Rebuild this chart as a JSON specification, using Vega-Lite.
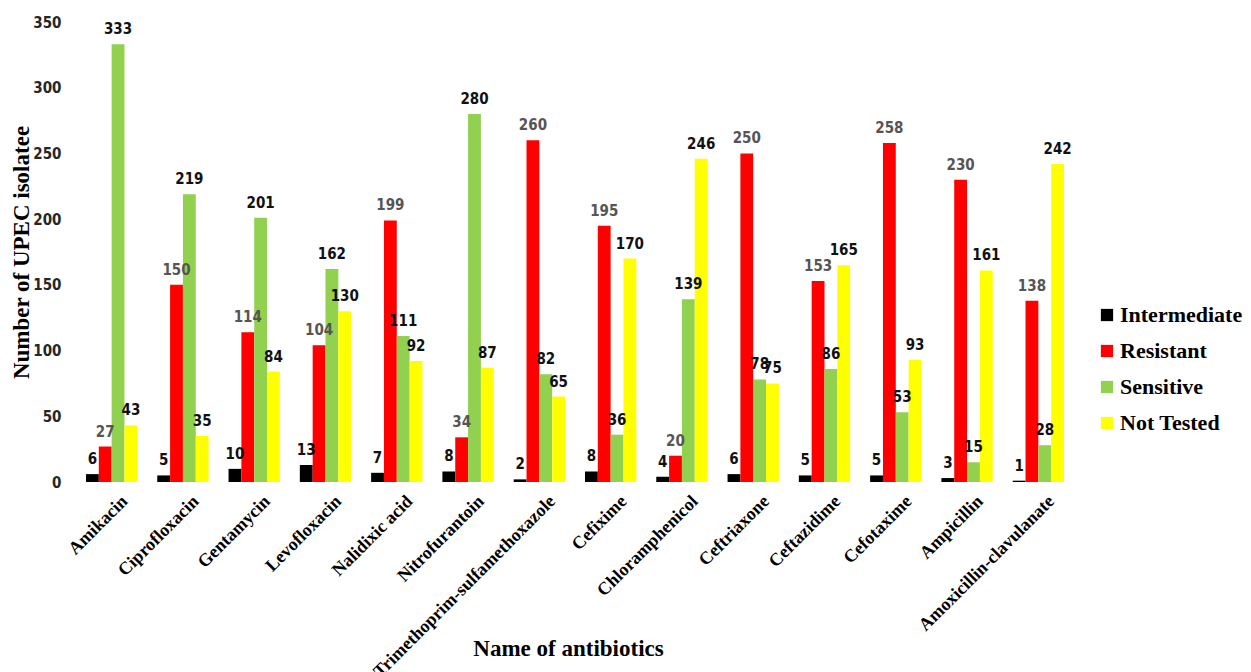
{
  "$schema": "https://vega.github.io/schema/vega-lite/v6.json",
  "autosize": {"type": "none"},
  "padding": {"left": 76, "top": 22, "right": 177, "bottom": 190},
  "width": 998,
  "height": 460,
  "background": "white",
  "config": {"view": {"stroke": null}},
  "data": {"values": [
    {"drug": "Amikacin", "s": "Intermediate", "v": 6}, {"drug": "Amikacin", "s": "Resistant", "v": 27}, {"drug": "Amikacin", "s": "Sensitive", "v": 333}, {"drug": "Amikacin", "s": "Not Tested", "v": 43},
    {"drug": "Ciprofloxacin", "s": "Intermediate", "v": 5}, {"drug": "Ciprofloxacin", "s": "Resistant", "v": 150}, {"drug": "Ciprofloxacin", "s": "Sensitive", "v": 219}, {"drug": "Ciprofloxacin", "s": "Not Tested", "v": 35},
    {"drug": "Gentamycin", "s": "Intermediate", "v": 10}, {"drug": "Gentamycin", "s": "Resistant", "v": 114}, {"drug": "Gentamycin", "s": "Sensitive", "v": 201}, {"drug": "Gentamycin", "s": "Not Tested", "v": 84},
    {"drug": "Levofloxacin", "s": "Intermediate", "v": 13}, {"drug": "Levofloxacin", "s": "Resistant", "v": 104}, {"drug": "Levofloxacin", "s": "Sensitive", "v": 162}, {"drug": "Levofloxacin", "s": "Not Tested", "v": 130},
    {"drug": "Nalidixic acid", "s": "Intermediate", "v": 7}, {"drug": "Nalidixic acid", "s": "Resistant", "v": 199}, {"drug": "Nalidixic acid", "s": "Sensitive", "v": 111}, {"drug": "Nalidixic acid", "s": "Not Tested", "v": 92},
    {"drug": "Nitrofurantoin", "s": "Intermediate", "v": 8}, {"drug": "Nitrofurantoin", "s": "Resistant", "v": 34}, {"drug": "Nitrofurantoin", "s": "Sensitive", "v": 280}, {"drug": "Nitrofurantoin", "s": "Not Tested", "v": 87},
    {"drug": "Trimethoprim-sulfamethoxazole", "s": "Intermediate", "v": 2}, {"drug": "Trimethoprim-sulfamethoxazole", "s": "Resistant", "v": 260}, {"drug": "Trimethoprim-sulfamethoxazole", "s": "Sensitive", "v": 82}, {"drug": "Trimethoprim-sulfamethoxazole", "s": "Not Tested", "v": 65},
    {"drug": "Cefixime", "s": "Intermediate", "v": 8}, {"drug": "Cefixime", "s": "Resistant", "v": 195}, {"drug": "Cefixime", "s": "Sensitive", "v": 36}, {"drug": "Cefixime", "s": "Not Tested", "v": 170},
    {"drug": "Chloramphenicol", "s": "Intermediate", "v": 4}, {"drug": "Chloramphenicol", "s": "Resistant", "v": 20}, {"drug": "Chloramphenicol", "s": "Sensitive", "v": 139}, {"drug": "Chloramphenicol", "s": "Not Tested", "v": 246},
    {"drug": "Ceftriaxone", "s": "Intermediate", "v": 6}, {"drug": "Ceftriaxone", "s": "Resistant", "v": 250}, {"drug": "Ceftriaxone", "s": "Sensitive", "v": 78}, {"drug": "Ceftriaxone", "s": "Not Tested", "v": 75},
    {"drug": "Ceftazidime", "s": "Intermediate", "v": 5}, {"drug": "Ceftazidime", "s": "Resistant", "v": 153}, {"drug": "Ceftazidime", "s": "Sensitive", "v": 86}, {"drug": "Ceftazidime", "s": "Not Tested", "v": 165},
    {"drug": "Cefotaxime", "s": "Intermediate", "v": 5}, {"drug": "Cefotaxime", "s": "Resistant", "v": 258}, {"drug": "Cefotaxime", "s": "Sensitive", "v": 53}, {"drug": "Cefotaxime", "s": "Not Tested", "v": 93},
    {"drug": "Ampicillin", "s": "Intermediate", "v": 3}, {"drug": "Ampicillin", "s": "Resistant", "v": 230}, {"drug": "Ampicillin", "s": "Sensitive", "v": 15}, {"drug": "Ampicillin", "s": "Not Tested", "v": 161},
    {"drug": "Amoxicillin-clavulanate", "s": "Intermediate", "v": 1}, {"drug": "Amoxicillin-clavulanate", "s": "Resistant", "v": 138}, {"drug": "Amoxicillin-clavulanate", "s": "Sensitive", "v": 28}, {"drug": "Amoxicillin-clavulanate", "s": "Not Tested", "v": 242}
  ]},
  "encoding": {
    "x": {
      "field": "drug", "type": "nominal", "sort": null,
      "scale": {"paddingInner": 0.28, "paddingOuter": 0.14},
      "axis": {
        "title": "Name of antibiotics", "labelAngle": -45, "domain": false, "ticks": false, "labelLimit": 0,
        "labelFont": "Liberation Serif", "labelFontWeight": "bold", "labelFontSize": 18, "labelColor": "#000000", "labelPadding": 10, "labelOffset": 7,
        "titleFont": "Liberation Serif", "titleFontWeight": "bold", "titleFontSize": 23, "titleColor": "#000000",
        "titleY": 166, "titleBaseline": "middle", "titleX": 492
      }
    },
    "xOffset": {"field": "s", "type": "nominal", "sort": ["Intermediate", "Resistant", "Sensitive", "Not Tested"], "scale": {"paddingInner": 0, "paddingOuter": 0}},
    "y": {
      "field": "v", "type": "quantitative",
      "scale": {"domain": [0, 350], "nice": false},
      "axis": {
        "title": "Number of UPEC isolatee", "values": [0, 50, 100, 150, 200, 250, 300, 350], "grid": false, "domain": false, "ticks": false,
        "labelFont": "DejaVu Sans Condensed, Liberation Sans Narrow, Roboto", "labelFontWeight": "bold", "labelFontSize": 15, "labelColor": "#262626", "labelPadding": 15,
        "titleFont": "Liberation Serif", "titleFontWeight": "bold", "titleFontSize": 23, "titleColor": "#000000",
        "titleX": -55, "titleY": 230, "titleAngle": -90, "titleAlign": "center", "titleBaseline": "middle"
      }
    }
  },
  "layer": [
    {
      "mark": {"type": "bar"},
      "encoding": {
        "color": {
          "field": "s", "type": "nominal",
          "sort": ["Intermediate", "Resistant", "Sensitive", "Not Tested"],
          "scale": {"domain": ["Intermediate", "Resistant", "Sensitive", "Not Tested"], "range": ["#000000", "#FF0000", "#92D050", "#FFFF00"]},
          "legend": {
            "title": null, "orient": "none", "legendX": 1020, "legendY": 282,
            "symbolType": "square", "symbolSize": 150, "symbolStrokeWidth": 0, "symbolOpacity": 1,
            "labelFont": "Liberation Serif", "labelFontWeight": "bold", "labelFontSize": 22, "labelColor": "#000000", "labelLimit": 0,
            "rowPadding": 14, "labelOffset": 2
          }
        }
      }
    },
    {
      "mark": {"type": "text", "baseline": "alphabetic", "dy": -10, "font": "DejaVu Sans Condensed, Liberation Sans Narrow, Roboto", "fontWeight": "bold", "fontSize": 15},
      "encoding": {
        "text": {"field": "v", "type": "quantitative"},
        "color": {
          "condition": {"test": "datum.s === 'Resistant'", "value": "#555555"},
          "value": "#111111"
        }
      }
    }
  ]
}
